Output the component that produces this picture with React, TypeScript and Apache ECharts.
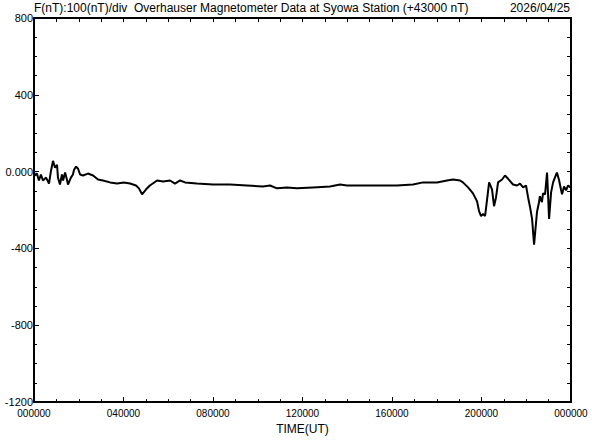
import React, { useEffect, useRef } from "react";
import * as echarts from "echarts";

// Time in hours (UT) and total-force deviation in nT (relative to 43000 nT)
const hours: number[] = [
  0, 0.045, 0.13, 0.22, 0.31, 0.4, 0.54, 0.67, 0.76, 0.85, 0.94, 1.03, 1.07, 1.16, 1.25, 1.3, 1.39, 1.47,
  1.52, 1.65, 1.74, 1.79, 1.88, 1.97, 2.06, 2.19, 2.41, 2.64, 2.86, 3.08, 3.4, 3.71, 4.02, 4.29, 4.56,
  4.69, 4.83, 5.01, 5.18, 5.5, 5.77, 6.08, 6.3, 6.53, 6.75, 7.28, 8.0, 8.76, 9.52, 10.23, 10.55, 10.86,
  11.31, 11.75, 12.47, 13.23, 13.68, 13.99, 14.7, 15.46, 16.22, 16.94, 17.39, 18.01, 18.46, 18.73, 19.04,
  19.17, 19.4, 19.62, 19.8, 19.89, 19.98, 20.07, 20.16, 20.25, 20.34, 20.47, 20.56, 20.65, 20.74, 20.92,
  21.05, 21.18, 21.41, 21.59, 21.72, 21.86, 21.99, 22.08, 22.17, 22.26, 22.35, 22.39, 22.48, 22.57, 22.61,
  22.7, 22.75, 22.84, 22.93, 22.97, 23.02, 23.11, 23.2, 23.28, 23.37, 23.46, 23.55, 23.6, 23.69, 23.78,
  23.87, 23.96, 24.0,
];
const values: number[] = [
  0, -20, -10, -46, -15, -46, -31, -62, 5, 56, 20, 36, -31, -67, -15, -46, -5, -41,
  -67, -31, -15, 10, 26, 15, -15, -20, -10, -20, -41, -46, -56, -62, -56, -62, -72,
  -87, -118, -92, -72, -46, -51, -46, -62, -46, -56, -62, -67, -67, -72, -77, -72, -87,
  -82, -87, -82, -77, -67, -72, -72, -72, -72, -67, -56, -56, -46, -41, -46,
  -56, -82, -113, -154, -205, -231, -221, -231, -144, -56, -92, -180, -133, -56, -41,
  -20, -36, -67, -72, -62, -82, -72, -133, -185, -246, -380, -328, -210, -159, -128,
  -159, -113, -118, -5, -108, -246, -108, -56, -31, -5, -41, -92, -118, -77, -97,
  -72, -82, -72,
];

const titleLeft = "F(nT):100(nT)/div  Overhauser Magnetometer Data at Syowa Station (+43000 nT)";
const titleRight = "2026/04/25";
const xAxisName = "TIME(UT)";
const yMin = -1200;
const yMax = 800;
const yStep = 400;
const xStep = 4;

const FONT = "Liberation Sans";

export default function App() {
  const ref = useRef<HTMLDivElement>(null);
  useEffect(() => {
    if (!ref.current) return;
    const chart = echarts.init(ref.current, undefined, { renderer: "svg" });
    const pad2 = (n: number) => (n < 10 ? "0" + n : "" + n);
    const axisLine = { show: true, onZero: false, lineStyle: { color: "#000", width: 2 } };
    chart.setOption({
      animation: false,
      backgroundColor: "#fff",
      grid: { left: 34, right: 21, top: 18, bottom: 32, containLabel: false },
      graphic: [
        {
          type: "text",
          left: 34,
          top: 2,
          style: { text: titleLeft, fill: "#000", font: `12px '${FONT}'` },
        },
        {
          type: "text",
          right: 22,
          top: 2,
          style: { text: titleRight, fill: "#000", font: `12px '${FONT}'` },
        },
      ],
      xAxis: [
        {
          type: "value",
          min: 0,
          max: 24,
          interval: xStep,
          position: "bottom",
          name: xAxisName,
          nameLocation: "middle",
          nameGap: 19,
          nameTextStyle: { color: "#000", fontFamily: FONT, fontSize: 12 },
          axisLine,
          splitLine: { show: false },
          axisTick: { show: true, inside: true, length: 5, lineStyle: { color: "#000", width: 1 } },
          minorTick: { show: true, splitNumber: 4, length: 3, lineStyle: { color: "#000", width: 1 } },
          axisLabel: {
            color: "#000",
            fontFamily: FONT,
            fontSize: 10,
            margin: 6,
            formatter: (v: number) => pad2(Math.round(v) % 24) + "0000",
          },
        },
        {
          type: "value",
          min: 0,
          max: 24,
          interval: xStep,
          position: "top",
          axisLine,
          splitLine: { show: false },
          axisTick: { show: true, inside: true, length: 4, lineStyle: { color: "#000", width: 1 } },
          minorTick: { show: true, splitNumber: 4, length: 4, lineStyle: { color: "#000", width: 1 } },
          axisLabel: { show: false },
        },
      ],
      yAxis: [
        {
          type: "value",
          min: yMin,
          max: yMax,
          interval: yStep,
          position: "left",
          axisLine,
          splitLine: { show: false },
          axisTick: { show: true, inside: true, length: 5, lineStyle: { color: "#000", width: 1 } },
          minorTick: { show: true, splitNumber: 4, length: 3, lineStyle: { color: "#000", width: 1 } },
          axisLabel: {
            color: "#000",
            fontFamily: FONT,
            fontSize: 11,
            margin: 1,
            formatter: (v: number) => (v === 0 ? "0.000" : String(v)),
          },
        },
        {
          type: "value",
          min: yMin,
          max: yMax,
          interval: yStep,
          position: "right",
          axisLine,
          splitLine: { show: false },
          axisTick: { show: true, inside: true, length: 4, lineStyle: { color: "#000", width: 1 } },
          minorTick: { show: true, splitNumber: 4, length: 4, lineStyle: { color: "#000", width: 1 } },
          axisLabel: { show: false },
        },
      ],
      series: [
        {
          type: "line",
          xAxisIndex: 0,
          yAxisIndex: 0,
          data: hours.map((h, i) => [h, values[i]]),
          showSymbol: false,
          symbol: "none",
          lineStyle: { color: "#000", width: 2 },
          silent: true,
        },
      ],
    });
    return () => chart.dispose();
  }, []);
  return (
    <div
      ref={ref}
      style={{ position: "fixed", left: 0, top: 0, width: 592, height: 440, background: "#fff" }}
    />
  );
}
